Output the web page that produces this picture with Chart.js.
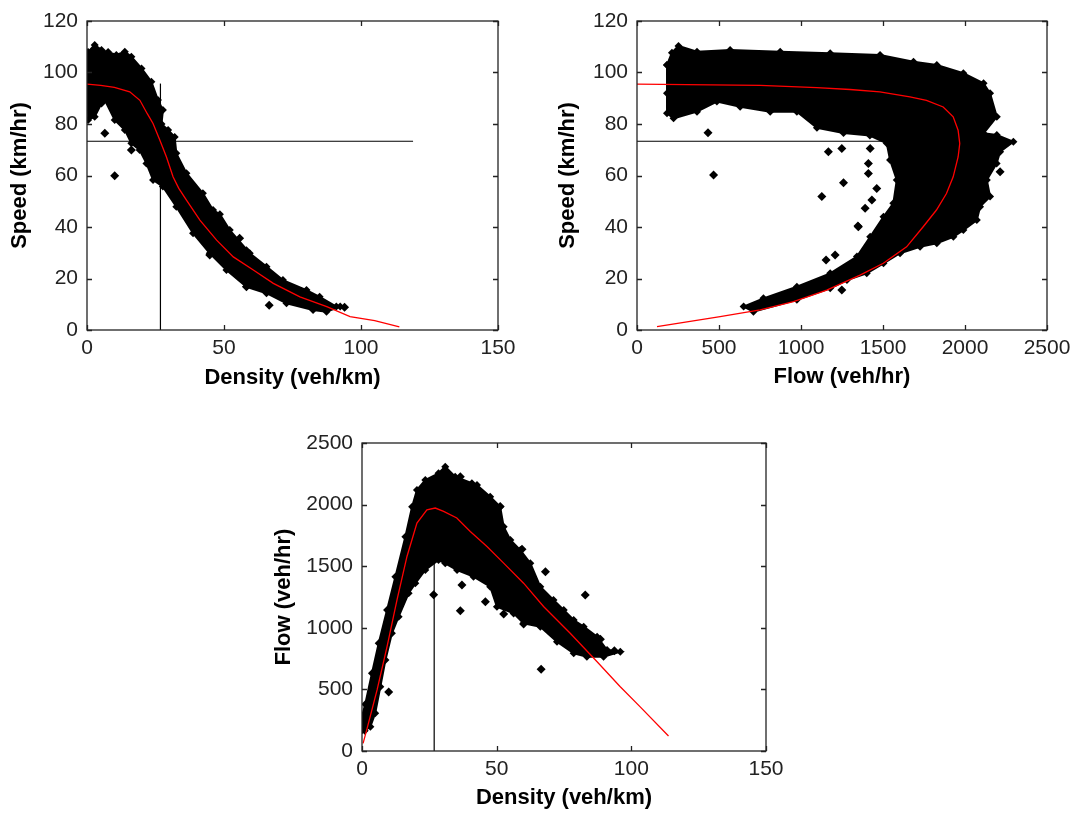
<!DOCTYPE html>
<html>
<head>
<meta charset="utf-8">
<script src="https://cdn.jsdelivr.net/npm/chart.js@4.4.1/dist/chart.umd.min.js"></script>
<style>
  body { margin: 0; background: #fff; width: 1073px; height: 815px; position: relative; overflow: hidden; }
  canvas { position: absolute; }
</style>
</head>
<body>
<canvas id="speed-density" width="530" height="400" style="left:0px;top:0px"></canvas>
<canvas id="speed-flow" width="530" height="400" style="left:543px;top:0px"></canvas>
<canvas id="flow-density" width="530" height="415" style="left:270px;top:400px"></canvas>
<script>
// ---- speed vs density ----
const sdFit = [[0,95.5],[5,95],[10,94.2],[15.6,92.5],[19.3,89.2],[22,84],[24.1,80.2],[26.6,73.7],[29,67.2],[31.4,59.5],[33.5,55],[36.3,50.4],[41.2,42.7],[47.3,34.9],[53.4,28.4],[60.7,23.3],[68,18.1],[77.7,12.9],[87.5,9.1],[96,5.2],[105,3.6],[114,1.2]];
const sdCloud = [[0.2,107],[0.4,108],[2.8,110.7],[5.3,108.7],[7.7,108],[10.7,106.8],[13.8,108.1],[16.2,106.1],[19.9,101.6],[23.5,96.4],[25.9,89.3],[27.7,85.4],[27.2,80],[29.6,77.7],[32,75],[32.6,68.6],[36.3,60.9],[42.3,53.1],[46,46.6],[48.5,45],[52.1,38.8],[59.4,29.8],[65.5,24.6],[71.5,19.4],[80.1,15.5],[84.9,12.9],[91,9.1],[92.4,9.1],[87.4,7.1],[82.5,7.8],[72.8,10.4],[65.5,14.3],[58.2,16.8],[50.9,23.3],[44.8,29.8],[38.7,37.6],[32.6,47.9],[27.7,55.7],[24.1,58.3],[21.7,64.7],[19.2,69.9],[16.2,72.5],[13.8,77.7],[10.1,81.6],[6.5,89.3],[5.3,88],[2.8,82.8],[0.4,81.6],[0.2,107]];
const sdOutliers = [[6.5,76.4],[10.1,59.9],[16.2,69.9],[94,8.8],[66.5,9.6],[44.8,29.1],[58.2,16.8],[55.7,35.6],[58.2,30.8]];
const sdCritSpeed = [[0,73.3],[119,73.3]];
const sdCritDensity = [[26.8,0],[26.8,95.7]];

// ---- speed vs flow ----
const sfFit = [[0,95.5],[751,95],[1096,94.1],[1299,93.4],[1481,92.5],[1664,90.5],[1765,89.2],[1867,86.6],[1928,82.8],[1958,77.6],[1968,72.4],[1958,67.2],[1928,59.5],[1887,53],[1826,46.6],[1745,40.1],[1644,32.3],[1502,25.9],[1360,21.3],[1157,15.5],[954,11],[751,7.8],[507,5.2],[122,1.3]];
const sfCloud = [[183,102.9],[213,107.7],[253,110.3],[366,108.1],[568,108.7],[873,108.1],[1178,107.5],[1482,106.8],[1686,104.2],[1828,102.9],[1990,99.7],[2113,95.8],[2153,91.9],[2194,82.8],[2113,76.4],[2194,75.7],[2295,73.1],[2214,69.2],[2193,64.7],[2133,58.3],[2153,51.8],[2092,47.9],[2072,42.7],[1990,38.8],[1929,36.2],[1828,33.7],[1726,32.3],[1604,29.8],[1503,25.9],[1401,22],[1280,19.4],[1178,16.2],[975,11.7],[710,7.1],[650,9.1],[771,12.3],[975,16.8],[1178,22],[1341,28.5],[1422,36.2],[1503,44],[1563,49.2],[1584,58.3],[1543,66],[1523,72.5],[1420,75.5],[1259,76.5],[1097,78.5],[975,84.8],[812,84.8],[629,86.7],[487,88.7],[366,84.8],[223,82.2],[183,84.2],[183,91.9],[183,102.9]];
const sfOutliers = [[433,76.6],[467,60.2],[1127,51.8],[1259,57.2],[1347,40.4],[1249,70.5],[1167,69.2],[1153,27.2],[1208,29.1],[1249,15.5],[2214,61.5],[1422,70.5],[1411,64.7],[1411,60.8],[1462,55],[1432,50.5],[1391,47.3],[1350,40.1]];
const sfCritSpeed = [[0,73.3],[1970,73.3]];

// ---- flow vs density ----
const fdFit = [[0.4,62],[1.9,184],[5.6,496],[9.3,848],[13,1227],[16.7,1579],[20.4,1850],[24.1,1958],[27.2,1972],[30.3,1945],[35.2,1891],[40.2,1782],[46.4,1660],[52.6,1525],[60,1362],[67.4,1173],[77.3,956],[87.2,726],[95.8,523],[103.2,360],[113.8,122]];
const fdCloud = [[0,170],[0,280],[1.2,380],[3.7,631],[6.2,874],[9.3,1144],[12.4,1415],[16.1,1739],[18.6,1983],[20.4,2119],[23.5,2200],[28.4,2254],[30.9,2308],[34.6,2226],[40.8,2173],[42.7,2159],[47.6,2064],[51.3,1983],[52.6,1821],[55.1,1713],[58.8,1631],[62.5,1523],[66.2,1334],[71.1,1226],[74.9,1144],[78.6,1063],[82.3,1009],[87.3,928],[91,820],[95.9,806],[89.7,766],[83.5,766],[78.6,793],[72.4,887],[66.2,1009],[60,1036],[56.3,1117],[50.1,1171],[47.6,1334],[41.4,1415],[35.3,1469],[30.9,1523],[28.4,1550],[23.5,1469],[19.8,1361],[17.3,1280],[13.6,1090],[11.1,955],[8.7,739],[6.8,522],[4.9,306],[3.1,197],[1,165],[0,170]];
const fdOutliers = [[9.9,479],[26.6,1268],[36.5,1139],[37.1,1347],[45.8,1212],[36.5,2226],[59.4,1637],[68.1,1455],[82.9,1266],[66.5,664],[52.6,1112],[60,1031],[88.5,907],[93.7,813],[51.3,1985]];
const fdCritDensity = [[26.8,0],[26.8,1970]];

const toXY = (pairs) => pairs.map(([x, y]) => ({ x, y }));

const tickFont = { family: "'Liberation Sans', Arial, sans-serif", size: 21 };
const titleFont = { family: "'Liberation Sans', Arial, sans-serif", size: 22, weight: "bold" };

// MATLAB style frame with inward ticks on all sides
const boxPlugin = {
  id: "box",
  afterDatasetsDraw(chart) {
    const { ctx, chartArea: a, scales } = chart;
    ctx.save();
    ctx.strokeStyle = "#222";
    ctx.lineWidth = 1.3;
    ctx.strokeRect(a.left, a.top, a.right - a.left, a.bottom - a.top);
    ctx.beginPath();
    for (const t of scales.x.ticks) {
      const px = Math.round(scales.x.getPixelForValue(t.value)) + 0.5;
      ctx.moveTo(px, a.bottom); ctx.lineTo(px, a.bottom - 5);
      ctx.moveTo(px, a.top); ctx.lineTo(px, a.top + 5);
    }
    for (const t of scales.y.ticks) {
      const py = Math.round(scales.y.getPixelForValue(t.value)) + 0.5;
      ctx.moveTo(a.left, py); ctx.lineTo(a.left + 5, py);
      ctx.moveTo(a.right, py); ctx.lineTo(a.right - 5, py);
    }
    ctx.stroke();
    ctx.restore();
  },
};

function makeChart(id, cfg) {
  const datasets = [
    { data: toXY(cfg.fit), borderColor: "#ff0000", borderWidth: 1.3, pointRadius: 0, fill: false },
    { data: toXY(cfg.outliers), showLine: false, pointStyle: "rectRot", pointRadius: 4.5, backgroundColor: "#000", borderWidth: 0 },
    { data: toXY(cfg.cloud), borderColor: "#000", borderWidth: 2, backgroundColor: "#000", fill: "shape", pointStyle: "rectRot", pointRadius: 4, pointBackgroundColor: "#000", pointBorderWidth: 0 },
  ];
  for (const ref of cfg.refs) {
    datasets.push({ data: toXY(ref), borderColor: "#000", borderWidth: 1.2, pointRadius: 0, fill: false });
  }
  return new Chart(document.getElementById(id), {
    type: "line",
    data: { datasets },
    options: {
      responsive: false,
      animation: false,
      events: [],
      layout: { padding: cfg.padding },
      plugins: { legend: { display: false }, tooltip: { enabled: false } },
      elements: { line: { tension: 0 } },
      scales: {
        x: {
          type: "linear",
          min: cfg.xMin, max: cfg.xMax,
          grid: { display: false, drawTicks: false },
          border: { display: false },
          ticks: { stepSize: cfg.xStep, font: tickFont, color: "#222", padding: 6, maxRotation: 0, callback: (v) => String(v) },
          title: { display: true, text: cfg.xTitle, font: titleFont, color: "#000", padding: { top: 0, bottom: cfg.xTitlePad } },
          afterFit(scale) { scale.height = cfg.xAxisHeight; scale.paddingLeft = 0; scale.paddingRight = 0; },
        },
        y: {
          min: cfg.yMin, max: cfg.yMax,
          grid: { display: false, drawTicks: false },
          border: { display: false },
          ticks: { stepSize: cfg.yStep, font: tickFont, color: "#222", padding: 9, callback: (v) => String(v) },
          title: { display: true, text: cfg.yTitle, font: titleFont, color: "#000", padding: { top: cfg.yTitlePad, bottom: 0 } },
          afterFit(scale) { scale.width = cfg.yAxisWidth; scale.paddingTop = 0; scale.paddingBottom = 0; },
        },
      },
    },
    plugins: [boxPlugin],
  });
}

makeChart("speed-density", {
  fit: sdFit, cloud: sdCloud, outliers: sdOutliers, refs: [sdCritSpeed, sdCritDensity],
  xMin: 0, xMax: 150, xStep: 50, yMin: 0, yMax: 120, yStep: 20,
  xTitle: "Density (veh/km)", yTitle: "Speed (km/hr)",
  padding: { left: 0, top: 21, right: 32, bottom: 0 },
  yAxisWidth: 87, xAxisHeight: 70, yTitlePad: 7, xTitlePad: 9,
});

makeChart("speed-flow", {
  fit: sfFit, cloud: sfCloud, outliers: sfOutliers, refs: [sfCritSpeed],
  xMin: 0, xMax: 2500, xStep: 500, yMin: 0, yMax: 120, yStep: 20,
  xTitle: "Flow (veh/hr)", yTitle: "Speed (km/hr)",
  padding: { left: 0, top: 21, right: 26, bottom: 0 },
  yAxisWidth: 94, xAxisHeight: 70, yTitlePad: 12, xTitlePad: 10,
});

makeChart("flow-density", {
  fit: fdFit, cloud: fdCloud, outliers: fdOutliers, refs: [fdCritDensity],
  xMin: 0, xMax: 150, xStep: 50, yMin: 0, yMax: 2500, yStep: 500,
  xTitle: "Density (veh/km)", yTitle: "Flow (veh/hr)",
  padding: { left: 0, top: 43, right: 34, bottom: 0 },
  yAxisWidth: 92, xAxisHeight: 64, yTitlePad: 1, xTitlePad: 4,
});
</script>
</body>
</html>
